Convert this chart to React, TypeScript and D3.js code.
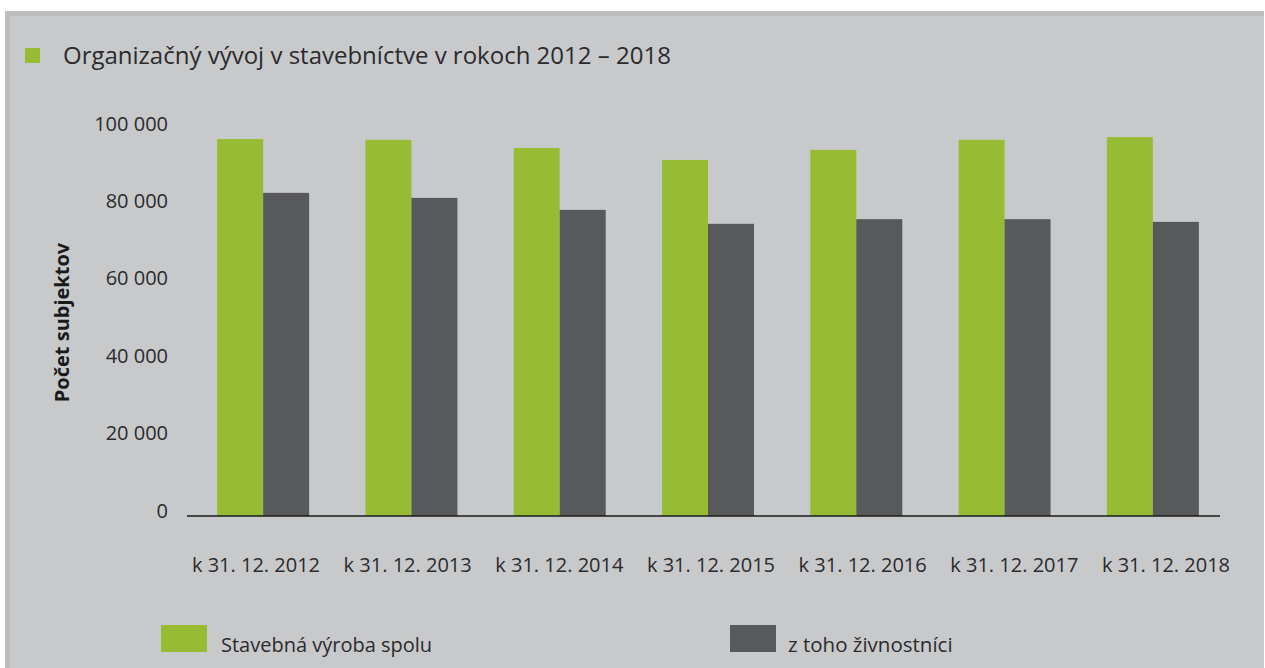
import React from "react";
import * as d3 from "d3";

const categories = ["k 31. 12. 2012", "k 31. 12. 2013", "k 31. 12. 2014", "k 31. 12. 2015", "k 31. 12. 2016", "k 31. 12. 2017", "k 31. 12. 2018"];
const totalValues = [97400, 97200, 95100, 92000, 94600, 97200, 97900];
const tradesmenValues = [83500, 82200, 79100, 75500, 76700, 76700, 76000];
const yTicks = [0, 20000, 40000, 60000, 80000, 100000];
const seriesNames = ["Stavebná výroba spolu", "z toho živnostníci"];
const title = "Organizačný vývoj v stavebníctve v rokoch 2012 – 2018";
const yTitle = "Počet subjektov";

const W = 1265;
const H = 668;
const GREEN = "#97bc33";
const DARK = "#58595b";
const BG = "#c8c9cb";
const BAND = "#bcbdbf";
const TEXT = "#2b2b2d";
const FONT = "'Open Sans', 'Noto Sans', sans-serif";

export default function App() {
  const x0 = 189;
  const x1 = 1227;
  const yBase = 516;
  const yTop = 129;
  const x = d3.scaleBand<string>().domain(categories).range([x0, x1]).padding(0);
  const y = d3.scaleLinear().domain([0, 100000]).range([yBase, yTop]);
  const labelX = d3.scalePoint<string>().domain(categories).range([256, 1166]);
  const barW = 46;
  const fmt = (v: number) => d3.format(",")(v).replace(/,/g, " ");

  return (
    <svg
      width={W}
      height={H}
      style={{ position: "absolute", left: 0, top: 0, display: "block" }}
      fontFamily={FONT}
    >
      <rect x={0} y={0} width={W} height={H} fill="#ffffff" />
      <rect x={5} y={11} width={W - 6} height={H - 11} fill={BAND} />
      <rect x={10} y={16} width={W - 11} height={H - 16} fill={BG} />

      {/* title */}
      <rect x={25} y={48} width={15} height={15} fill={GREEN} />
      <text x={63} y={64} fontSize={24} fill={TEXT}>{title}</text>

      {/* y axis labels */}
      {yTicks.map((t) => (
        <text key={t} x={168} y={y(t) - 6} fontSize={20} fill={TEXT} textAnchor="end" dominantBaseline="central">
          {fmt(t)}
        </text>
      ))}
      <text
        transform={`translate(69, ${(yTop + yBase) / 2}) rotate(-90)`}
        fontSize={20}
        fontWeight="bold"
        fill="#1a1a1a"
        textAnchor="middle"
      >
        {yTitle}
      </text>

      {/* bars */}
      {categories.map((c, i) => {
        const cx = (x(c) as number) + x.bandwidth() / 2;
        return (
          <g key={c}>
            <rect x={cx - barW} y={y(totalValues[i])} width={barW} height={yBase - y(totalValues[i])} fill={GREEN} />
            <rect x={cx} y={y(tradesmenValues[i])} width={barW} height={yBase - y(tradesmenValues[i])} fill={DARK} />
          </g>
        );
      })}

      {/* axis line */}
      <line x1={187} x2={1220} y1={yBase} y2={yBase} stroke="#1a1a1a" strokeWidth={1.5} />

      {/* x labels */}
      {categories.map((c) => (
        <text key={c} x={labelX(c)} y={572} fontSize={20} fill={TEXT} textAnchor="middle">
          {c}
        </text>
      ))}

      {/* legend */}
      <rect x={161} y={625} width={46} height={27} fill={GREEN} />
      <text x={221} y={652} fontSize={20} fill={TEXT}>{seriesNames[0]}</text>
      <rect x={730} y={625} width={46} height={27} fill={DARK} />
      <text x={788} y={652} fontSize={20.5} fill={TEXT}>{seriesNames[1]}</text>
    </svg>
  );
}
